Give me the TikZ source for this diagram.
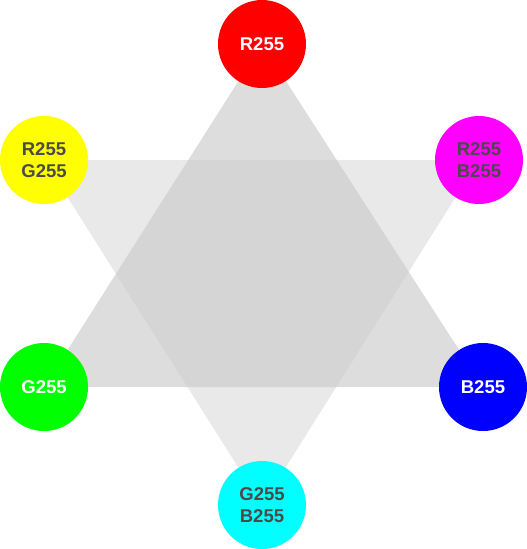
\documentclass[tikz,border=0pt]{standalone}
\usepackage{fontspec}
\setmainfont{Liberation Sans}
\definecolor{txtdark}{HTML}{4A4A4A}
\definecolor{tridown}{HTML}{E9E9E9}
\definecolor{triup}{HTML}{CACACA}
\begin{document}
\begin{tikzpicture}[x=1pt,y=-1pt,
  dot/.style={circle,minimum size=88pt,inner sep=0pt,align=center,
    font=\fontsize{18.5}{22}\selectfont\bfseries},
  lighttxt/.style={text=white},
  darktxt/.style={text=txtdark}]
\useasboundingbox (0,0) rectangle (527,549);
\coordinate (cR) at (262,44);
\coordinate (cY) at (44,160);
\coordinate (cM) at (479,160);
\coordinate (cG) at (44,387);
\coordinate (cB) at (483,387);
\coordinate (cC) at (262,505);
\fill[tridown] (cY) -- (cM) -- (cC) -- cycle;
\fill[triup,opacity=0.64] (cR) -- (cB) -- (cG) -- cycle;
\node[dot,fill={rgb,255:red,255;green,0;blue,0},lighttxt] (r) at (cR) {R255};
\node[dot,fill={rgb,255:red,255;green,255;blue,0},darktxt] (y) at (cY) {R255\\G255};
\node[dot,fill={rgb,255:red,255;green,0;blue,255},darktxt] (m) at (cM) {R255\\B255};
\node[dot,fill={rgb,255:red,0;green,255;blue,0},lighttxt] (g) at (cG) {G255};
\node[dot,fill={rgb,255:red,0;green,0;blue,255},lighttxt] (b) at (cB) {B255};
\node[dot,fill={rgb,255:red,0;green,255;blue,255},darktxt] (c) at (cC) {G255\\B255};
\end{tikzpicture}
\end{document}
